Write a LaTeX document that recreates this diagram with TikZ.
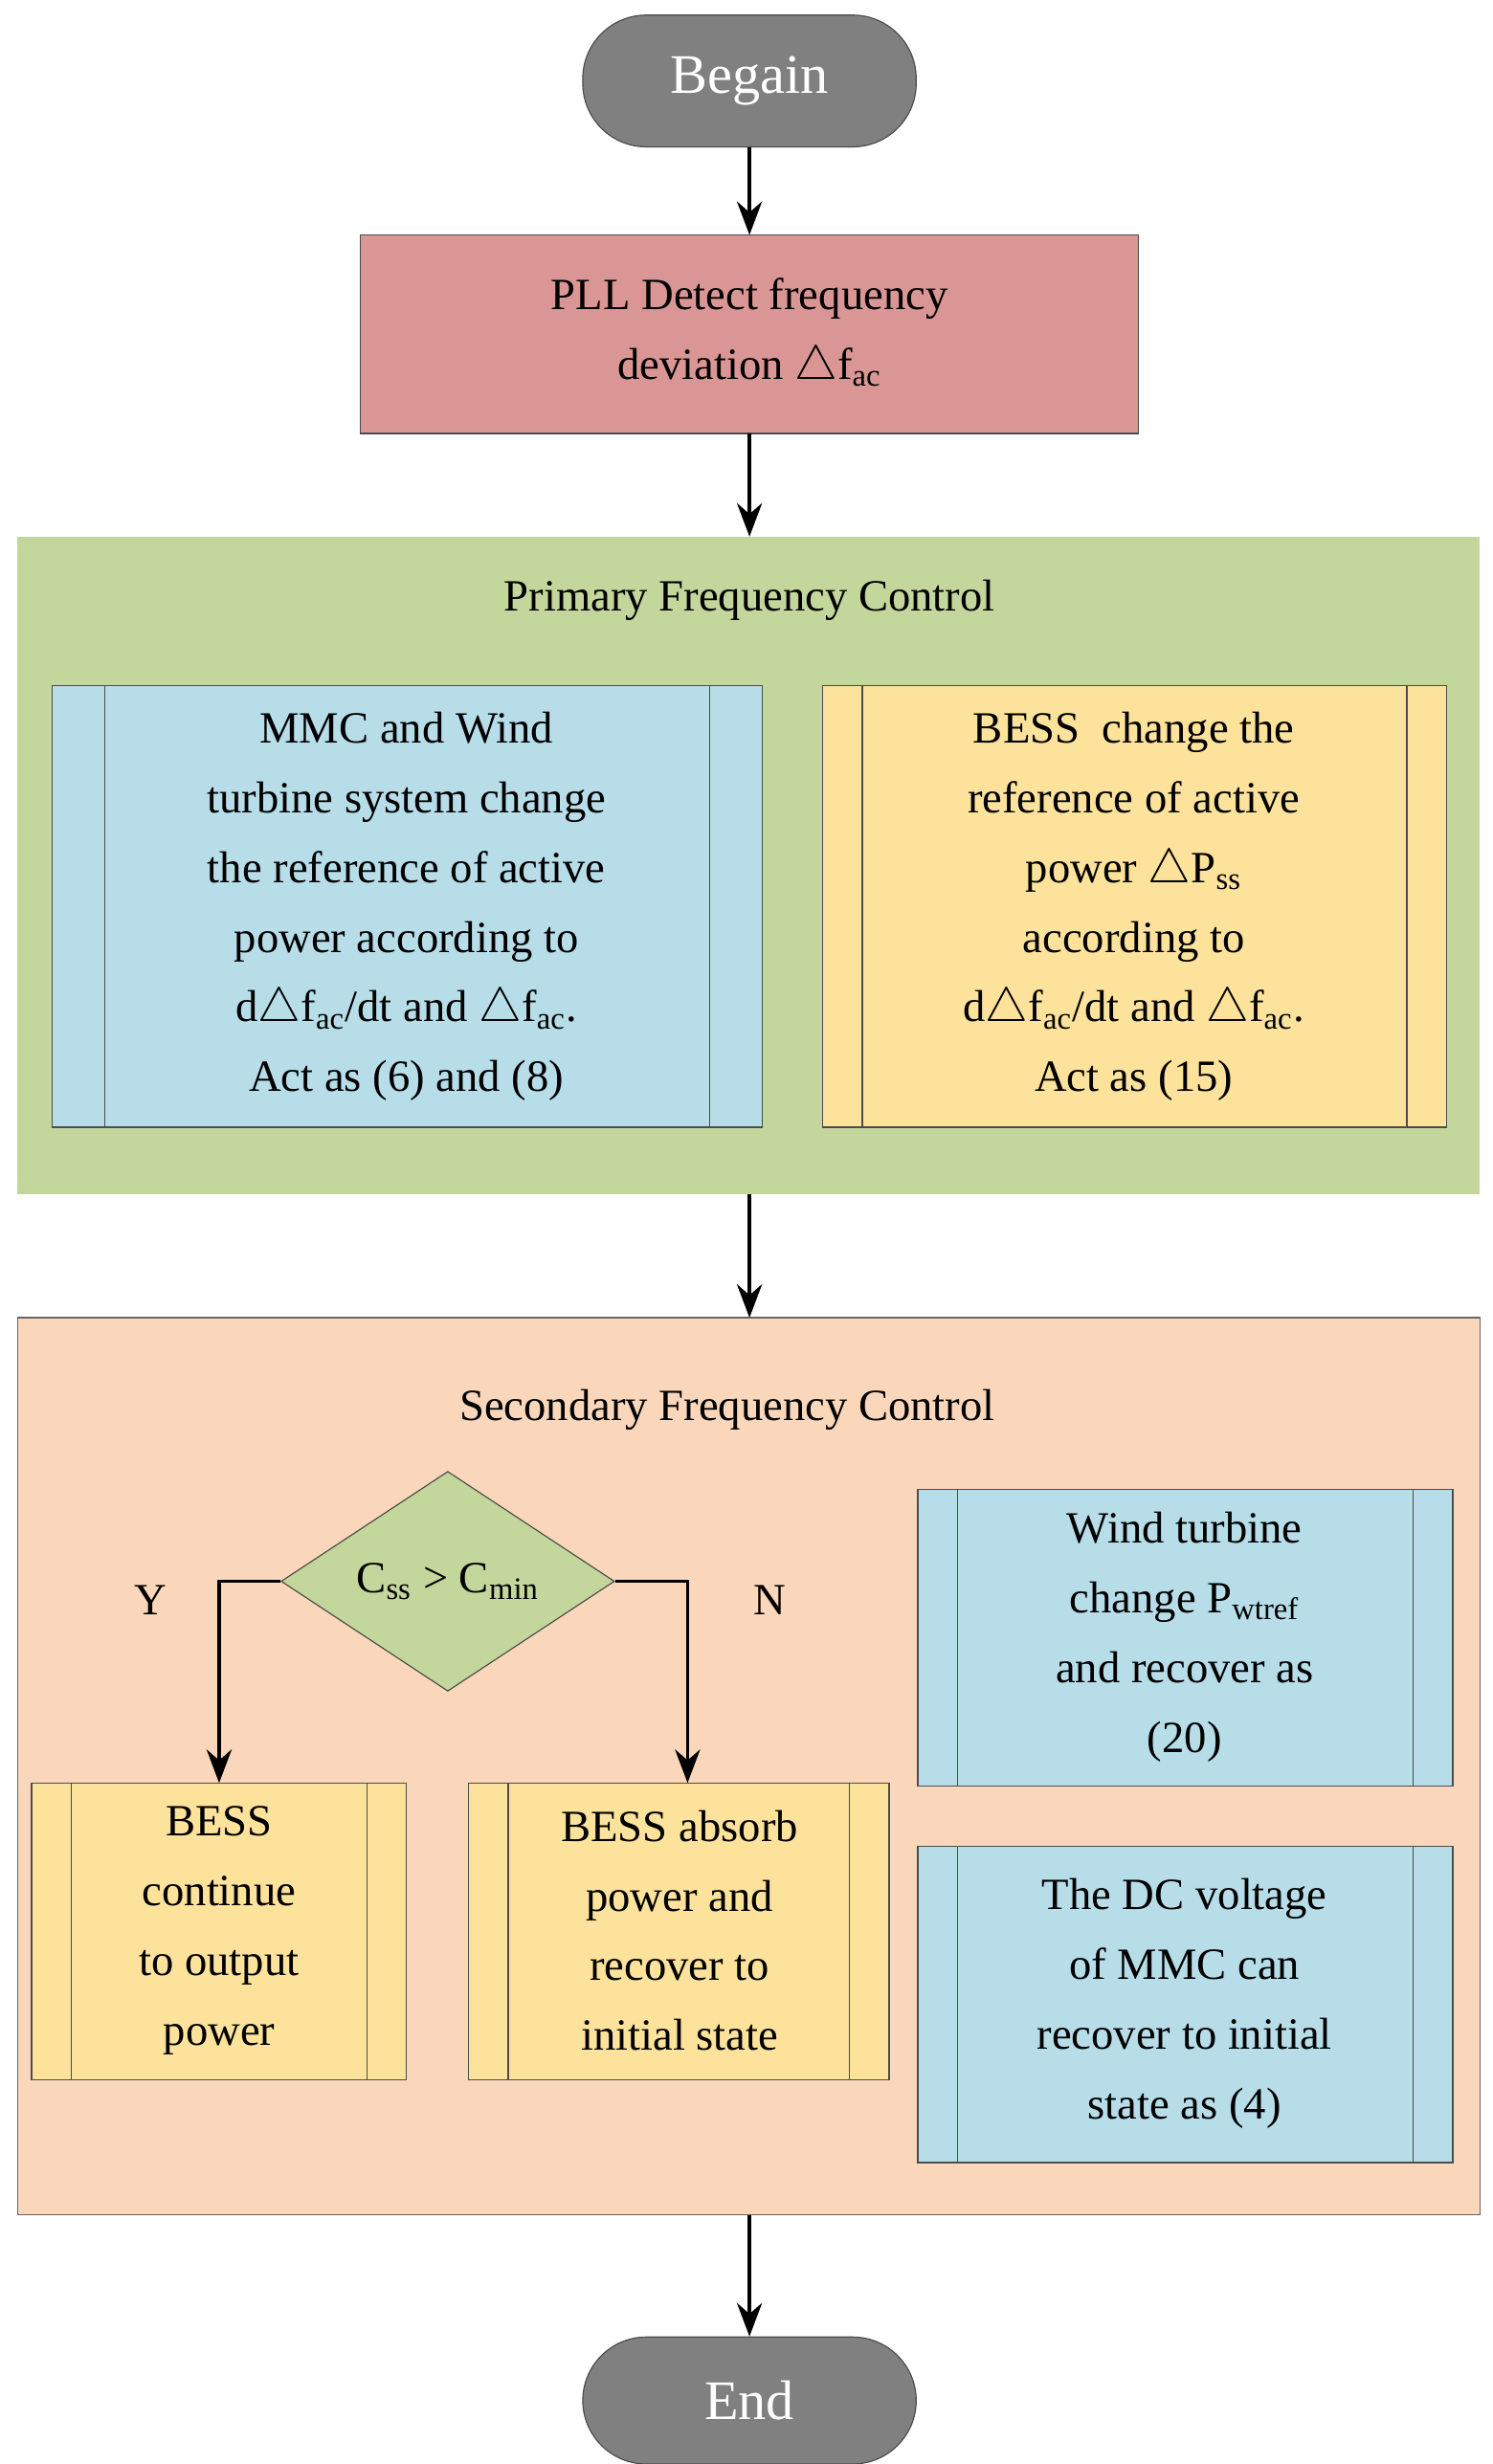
\documentclass[tikz,border=0pt]{standalone}
\usepackage{fontspec}
\setmainfont{Liberation Serif}
\usetikzlibrary{shapes.geometric,arrows.meta}
\definecolor{gr}{HTML}{808080}
\definecolor{pll}{HTML}{D99694}
\definecolor{grn}{HTML}{C3D69B}
\definecolor{blu}{HTML}{B7DDE8}
\definecolor{yel}{HTML}{FCE29A}
\definecolor{org}{HTML}{FAD7BA}
\definecolor{dgrn}{HTML}{C3D69B}
\begin{document}
\begin{tikzpicture}[x=0.02cm,y=-0.02cm,
  txt/.style={font=\fontsize{16}{25}\selectfont,align=center},
  arr/.style={-{Stealth[length=12pt,width=9pt]},line width=1.2pt},
  box/.style={draw=black!70,line width=0.5pt}]
\useasboundingbox (0,0) rectangle (940,1552);
% Begin
\node[draw=black!70,fill=gr,rounded corners=0.8cm,minimum width=4.2cm,minimum height=1.66cm,text=white,font=\fontsize{20}{24}\selectfont] (beg) at (472,51) {Begain};
% PLL
\filldraw[box,fill=pll] (227,148) rectangle (717,273);
\node[txt] (pll) at (472,210) {PLL Detect frequency\\deviation $\triangle$f\textsubscript{ac}};
\coordinate (pllt) at (472,148); \coordinate (pllb) at (472,273);
% primary
\fill[grn] (11,338) rectangle (932,752);
\coordinate (pt) at (472,338); \coordinate (pb) at (472,752);
\node[txt] (ptitle) at (472,378) {Primary Frequency Control};
\filldraw[box,fill=blu] (33,432) rectangle (480,710);
\draw[box] (66,432)--(66,710) (447,432)--(447,710);
\node[txt] (mmc) at (256,571) {MMC and Wind\\turbine system change\\the reference of active\\power according to\\d$\triangle$f\textsubscript{ac}/dt and $\triangle$f\textsubscript{ac}.\\Act as (6) and (8)};
\filldraw[box,fill=yel] (518,432) rectangle (911,710);
\draw[box] (543,432)--(543,710) (886,432)--(886,710);
\node[txt] (bess) at (714,571) {BESS\ \ change the\\reference of active\\power $\triangle$P\textsubscript{ss}\\according to\\d$\triangle$f\textsubscript{ac}/dt and $\triangle$f\textsubscript{ac}.\\Act as (15)};
% secondary
\fill[org] (11,830) rectangle (932,1395);
\draw[black!60,line width=0.5pt] (11,830) rectangle (932,1395);
\coordinate (st) at (472,830); \coordinate (sb) at (472,1395);
\node[txt] (stitle) at (458,888) {Secondary Frequency Control};
\node[diamond,draw=black!70,fill=dgrn,minimum width=4.2cm,minimum height=2.48cm,inner sep=0pt,txt] (dia) at (282,996) {C\textsubscript{ss} > C\textsubscript{min}};
\node[txt] (y) at (95,1008) {Y};
\node[txt] (n) at (485,1008) {N};
\filldraw[box,fill=yel] (20,1123) rectangle (256,1310);
\draw[box] (45,1123)--(45,1310) (231,1123)--(231,1310);
\node[txt] (b1) at (138,1216) {BESS\\continue\\to output\\power};
\coordinate (b1t) at (138,1123);
\filldraw[box,fill=yel] (295,1123) rectangle (560,1310);
\draw[box] (320,1123)--(320,1310) (535,1123)--(535,1310);
\node[txt] (b2) at (428,1216) {BESS absorb\\power and\\recover to\\initial state};
\coordinate (b2t) at (433,1123);
\filldraw[box,fill=blu] (578,938) rectangle (915,1125);
\draw[box] (603,938)--(603,1125) (890,938)--(890,1125);
\node[txt] (w) at (746,1031) {Wind turbine\\change P\textsubscript{wtref}\\and recover as\\(20)};
\filldraw[box,fill=blu] (578,1163) rectangle (915,1362);
\draw[box] (603,1163)--(603,1362) (890,1163)--(890,1362);
\node[txt] (dc) at (746,1262) {The DC voltage\\of MMC can\\recover to initial\\state as (4)};
% End
\node[draw=black!70,fill=gr,rounded corners=0.8cm,minimum width=4.2cm,minimum height=1.6cm,text=white,font=\fontsize{20}{24}\selectfont] (end) at (472,1512) {End};
% arrows
\draw[arr] (beg.south) -- (pllt);
\draw[arr] (pllb) -- (pt);
\draw[arr] (pb) -- (st);
\draw[arr] (sb) -- (end.north);
\draw[arr] (dia.west) -| (b1t);
\draw[arr] (dia.east) -| (b2t);
\end{tikzpicture}
\end{document}
